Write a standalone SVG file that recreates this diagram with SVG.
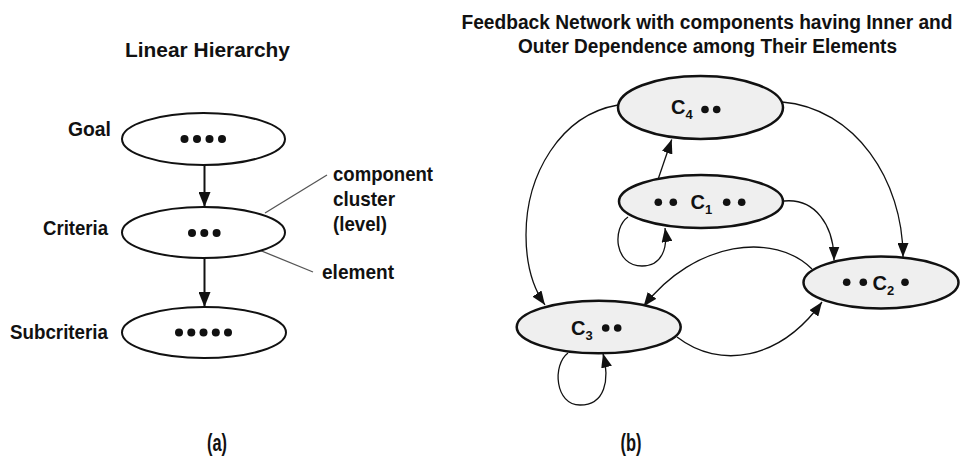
<svg xmlns="http://www.w3.org/2000/svg" width="960" height="461" viewBox="0 0 960 461">
<style>
text{font-family:"Liberation Sans",Arial,sans-serif;font-weight:bold;fill:#111;}
.t{font-size:21px;}
.t2{font-size:19.5px;}
.lab{font-size:21px;}
.ann{font-size:21px;}
.cap{font-size:23px;}
.c{font-size:20px;}
.sub{font-size:13px;}
.le{fill:#fff;stroke:#111;stroke-width:2;}
.re{fill:#efefef;stroke:#111;stroke-width:2.5;}
.dot{fill:#111;}
.arr{fill:none;stroke:#111;stroke-width:2;}
.con{fill:none;stroke:#111;stroke-width:1.3;}
.lead{fill:none;stroke:#555;stroke-width:1.3;}
</style>
<defs>
<marker id="ahL" markerUnits="userSpaceOnUse" viewBox="0 0 15 12" refX="15" refY="6" markerWidth="15" markerHeight="12" orient="auto">
<path d="M0,0 L15,6 L0,12 z" fill="#111"/>
</marker>
<marker id="ahR" markerUnits="userSpaceOnUse" viewBox="0 0 14 11" refX="14" refY="5.5" markerWidth="14" markerHeight="11" orient="auto">
<path d="M0,0 L14,5.5 L0,11 z" fill="#111"/>
</marker>
</defs>
<rect width="960" height="461" fill="#fff"/>

<!-- Titles -->
<text class="t" x="125" y="57" textLength="165" lengthAdjust="spacingAndGlyphs">Linear Hierarchy</text>
<text class="t2" x="707" y="29" text-anchor="middle" textLength="491" lengthAdjust="spacingAndGlyphs">Feedback Network with components having Inner and</text>
<text class="t2" x="707.5" y="53" text-anchor="middle" textLength="379" lengthAdjust="spacingAndGlyphs">Outer Dependence among Their Elements</text>

<!-- Left: linear hierarchy -->
<g id="connectors-left">
<path class="arr" d="M204.5,165 L204.5,207" marker-end="url(#ahL)"/>
<path class="arr" d="M204.5,258 L204.5,307" marker-end="url(#ahL)"/>
<path class="lead" d="M265,213 L327,175"/>
<path class="lead" d="M225,236 L313,272"/>
</g>
<g id="goal">
<text class="lab" x="68" y="136" textLength="43" lengthAdjust="spacingAndGlyphs">Goal</text>
<ellipse class="le" cx="203.5" cy="139" rx="81.5" ry="26"/>
<circle class="dot" cx="184.5" cy="139" r="4"/>
<circle class="dot" cx="197" cy="139" r="4"/>
<circle class="dot" cx="209.5" cy="139" r="4"/>
<circle class="dot" cx="222" cy="139" r="4"/>
</g>
<g id="criteria">
<text class="lab" x="43" y="235" textLength="65" lengthAdjust="spacingAndGlyphs">Criteria</text>
<ellipse class="le" cx="203.5" cy="232.5" rx="81.5" ry="25.5"/>
<circle class="dot" cx="192" cy="233" r="4"/>
<circle class="dot" cx="204.3" cy="233" r="4"/>
<circle class="dot" cx="216.6" cy="233" r="4"/>
</g>
<g id="subcriteria">
<text class="lab" x="10" y="339" textLength="98" lengthAdjust="spacingAndGlyphs">Subcriteria</text>
<ellipse class="le" cx="204" cy="332.5" rx="82" ry="25.5"/>
<circle class="dot" cx="179" cy="332.5" r="4"/>
<circle class="dot" cx="191.3" cy="332.5" r="4"/>
<circle class="dot" cx="203.5" cy="332.5" r="4"/>
<circle class="dot" cx="215.8" cy="332.5" r="4"/>
<circle class="dot" cx="228" cy="332.5" r="4"/>
</g>
<g id="annotations">
<text class="ann" x="333" y="181" textLength="100" lengthAdjust="spacingAndGlyphs">component</text>
<text class="ann" x="333" y="206" textLength="62" lengthAdjust="spacingAndGlyphs">cluster</text>
<text class="ann" x="333" y="231" textLength="54" lengthAdjust="spacingAndGlyphs">(level)</text>
<text class="ann" x="322" y="279" textLength="72" lengthAdjust="spacingAndGlyphs">element</text>
</g>

<!-- Right: feedback network -->
<g id="connectors-right">
<path class="con" d="M618,105 C560,115 526,175 526,235 C526,265 533,288 545,305" marker-end="url(#ahR)"/>
<path class="con" d="M782,102 C855,108 903,180 903,257" marker-end="url(#ahR)"/>
<path class="con" d="M658.5,178 L671.7,139.5" marker-end="url(#ahR)"/>
<path class="con" d="M628,217 C612,228 614,266 642,266 C662,266 668,248 665,228" marker-end="url(#ahR)"/>
<path class="con" d="M784,201 C815,198 834,225 834,260.5" marker-end="url(#ahR)"/>
<path class="con" d="M812,269 C775,232 695,240 643.5,306.5" marker-end="url(#ahR)"/>
<path class="con" d="M677,337 C720,370 780,360 822,302" marker-end="url(#ahR)"/>
<path class="con" d="M568,353 C552,365 555,405 580,405 C605,405 610,380 603,353.5" marker-end="url(#ahR)"/>
</g>
<g id="c4">
<ellipse class="re" cx="700.5" cy="107.5" rx="82.5" ry="31.5"/>
<text class="c" x="671" y="114">C<tspan class="sub" dy="5">4</tspan></text>
<circle class="dot" cx="705" cy="109.5" r="3.8"/>
<circle class="dot" cx="716.7" cy="109.5" r="3.8"/>
</g>
<g id="c1">
<ellipse class="re" cx="701" cy="201.5" rx="82" ry="26.5"/>
<circle class="dot" cx="658.3" cy="202.3" r="3.8"/>
<circle class="dot" cx="673.3" cy="202.3" r="3.8"/>
<text class="c" x="690.5" y="208.5">C<tspan class="sub" dy="5">1</tspan></text>
<circle class="dot" cx="726.7" cy="202.3" r="3.8"/>
<circle class="dot" cx="741.7" cy="202.3" r="3.8"/>
</g>
<g id="c2">
<ellipse class="re" cx="881" cy="282.5" rx="77.5" ry="26"/>
<circle class="dot" cx="846.7" cy="282.3" r="3.8"/>
<circle class="dot" cx="863.3" cy="282.3" r="3.8"/>
<text class="c" x="872.5" y="290">C<tspan class="sub" dy="5">2</tspan></text>
<circle class="dot" cx="905" cy="282.3" r="3.8"/>
</g>
<g id="c3">
<ellipse class="re" cx="598.7" cy="327" rx="82" ry="26.3"/>
<text class="c" x="571" y="335">C<tspan class="sub" dy="5">3</tspan></text>
<circle class="dot" cx="605.7" cy="328" r="3.8"/>
<circle class="dot" cx="617.7" cy="328" r="3.8"/>
</g>

<!-- Captions -->
<text class="cap" x="217" y="451" text-anchor="middle" textLength="20" lengthAdjust="spacingAndGlyphs">(a)</text>
<text class="cap" x="631" y="451" text-anchor="middle" textLength="21" lengthAdjust="spacingAndGlyphs">(b)</text>
</svg>
